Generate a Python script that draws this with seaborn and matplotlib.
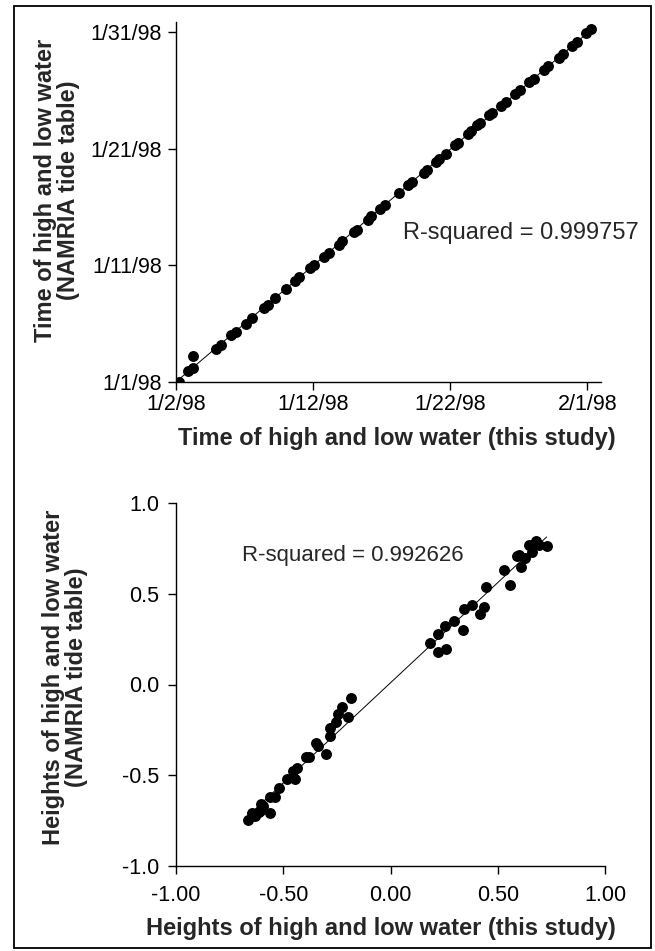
import matplotlib
matplotlib.use("Agg")
import matplotlib.pyplot as plt
import seaborn as sns
import numpy as np
import pandas as pd
from matplotlib.patches import Rectangle

# ---- data (days of January 1998; day 32 = Feb 1) ----
time_study = [2.21, 2.88, 3.22, 3.22, 4.92, 5.25, 6.04, 6.35, 7.08, 7.56,
              8.41, 8.69, 9.23, 9.99, 10.69, 10.97, 11.79, 12.09, 12.79, 13.16,
              13.91, 14.13, 15.01, 15.22, 15.98, 16.22, 16.86, 17.26, 18.26, 18.93,
              19.23, 20.09, 20.30, 20.94, 21.21, 21.67, 22.33, 22.55, 23.31, 23.55,
              23.95, 24.19, 24.86, 25.07, 25.74, 26.04, 26.74, 27.08, 27.77, 28.08,
              28.84, 29.14, 29.90, 30.21, 30.90, 31.27, 31.91, 32.24]
time_namria = [1.00, 1.92, 2.21, 3.24, 3.87, 4.16, 5.02, 5.31, 6.00, 6.46,
               7.38, 7.61, 8.24, 8.99, 9.68, 10.02, 10.77, 11.06, 11.69, 12.03,
               12.78, 13.07, 13.84, 14.05, 14.91, 15.20, 15.83, 16.14, 17.21, 17.87,
               18.16, 18.93, 19.16, 19.85, 20.14, 20.54, 21.29, 21.52, 22.29, 22.52,
               23.07, 23.24, 23.87, 24.10, 24.68, 25.02, 25.71, 26.00, 26.75, 26.98,
               27.72, 28.07, 28.82, 29.10, 29.85, 30.14, 30.94, 31.23]

height_study = [-0.664, -0.644, -0.632, -0.625, -0.612, -0.605, -0.602, -0.595, -0.563, -0.560,
                -0.540, -0.520, -0.482, -0.446, -0.454, -0.436, -0.392, -0.380, -0.345, -0.338,
                -0.302, -0.283, -0.280, -0.252, -0.247, -0.228, -0.200, -0.182,
                0.184, 0.223, 0.254, 0.223, 0.259, 0.296, 0.340, 0.344, 0.379, 0.417,
                0.436, 0.446, 0.527, 0.557, 0.590, 0.600, 0.608, 0.627, 0.644, 0.660,
                0.678, 0.690, 0.728]
height_namria = [-0.748, -0.706, -0.722, -0.715, -0.700, -0.690, -0.660, -0.672, -0.706, -0.620,
                 -0.620, -0.569, -0.519, -0.523, -0.477, -0.459, -0.400, -0.398, -0.321, -0.340,
                 -0.381, -0.284, -0.238, -0.207, -0.165, -0.123, -0.180, -0.077,
                 0.229, 0.279, 0.321, 0.178, 0.196, 0.348, 0.299, 0.418, 0.436, 0.391,
                 0.425, 0.535, 0.633, 0.549, 0.710, 0.712, 0.648, 0.697, 0.770, 0.728,
                 0.792, 0.767, 0.765]

time_xticks = [2, 12, 22, 32]
time_xticklabels = ["1/2/98", "1/12/98", "1/22/98", "2/1/98"]
time_yticks = [1, 11, 21, 31]
time_yticklabels = ["1/1/98", "1/11/98", "1/21/98", "1/31/98"]
height_xticks = [-1.0, -0.5, 0.0, 0.5, 1.0]
height_xticklabels = ["-1.00", "-0.50", "0.00", "0.50", "1.00"]
height_yticks = [-1.0, -0.5, 0.0, 0.5, 1.0]
height_yticklabels = ["-1.0", "-0.5", "0.0", "0.5", "1.0"]

r2_time = "R-squared = 0.999757"
r2_height = "R-squared = 0.992626"

sns.set_style("ticks")
plt.rcParams['font.family'] = ['Liberation Sans', 'DejaVu Sans']
plt.rcParams['axes.linewidth'] = 1.0
plt.rcParams['xtick.color'] = 'black'
plt.rcParams['ytick.color'] = 'black'

fig = plt.figure(figsize=(6.55, 9.51), dpi=100)
W, H = 655, 951

def axes_px(l, t, r, b):
    return fig.add_axes([l / W, 1 - b / H, (r - l) / W, (b - t) / H])

ax1 = axes_px(176, 22, 601, 382)
ax2 = axes_px(176, 503, 605, 866)

df_t = pd.DataFrame({"x": time_study, "y": time_namria})
df_h = pd.DataFrame({"x": height_study, "y": height_namria})

scat = dict(s=62, color="black", linewidths=0, alpha=1)
line = dict(color="black", lw=0.7)

sns.regplot(data=df_t, x="x", y="y", ax=ax1, ci=None, scatter_kws=scat, line_kws=line)
sns.regplot(data=df_h, x="x", y="y", ax=ax2, ci=None, scatter_kws=scat, line_kws=line)

for ax in (ax1, ax2):
    sns.despine(ax=ax)
    ax.spines['left'].set_color('black')
    ax.spines['bottom'].set_color('black')
    ax.tick_params(axis='both', direction='out', length=6, width=1, labelsize=15.5, colors='black')

ax1.set_xlim(2, 33)
ax1.set_ylim(1, 31.87)
ax1.set_xticks(time_xticks)
ax1.set_xticklabels(time_xticklabels)
ax1.set_yticks(time_yticks)
ax1.set_yticklabels(time_yticklabels)
ax1.tick_params(axis='x', pad=3)
ax1.tick_params(axis='y', pad=4)

ax2.set_xlim(-1, 1)
ax2.set_ylim(-1, 1)
ax2.set_xticks(height_xticks)
ax2.set_xticklabels(height_xticklabels)
ax2.set_yticks(height_yticks)
ax2.set_yticklabels(height_yticklabels)
ax2.tick_params(axis='x', pad=8)
ax2.tick_params(axis='y', pad=6)

lab = dict(fontsize=17, fontweight='bold')
ax1.set_xlabel("Time of high and low water (this study)", **lab)
ax1.set_ylabel("Time of high and low water\n(NAMRIA tide table)", linespacing=1.0, **lab)
ax1.xaxis.set_label_coords(0.519, -0.124)
ax1.yaxis.set_label_coords(-0.226, 0.533)

ax2.set_xlabel("Heights of high and low water (this study)", **lab)
ax2.set_ylabel("Heights of high and low water\n(NAMRIA tide table)", linespacing=1.0, **lab)
ax2.xaxis.set_label_coords(0.478, -0.140)
ax2.yaxis.set_label_coords(-0.205, 0.521)

ax1.text(18.55, 13.8, r2_time, fontsize=17, ha='left', va='center')
ax2.text(-0.694, 0.71, r2_height, fontsize=16, ha='left', va='center')

fig.patches.append(Rectangle((14 / W, 1 - 948 / H), (651 - 14) / W, (948 - 6) / H,
                             transform=fig.transFigure, fill=False,
                             edgecolor='black', linewidth=1.3))

fig.savefig("out.png", dpi=100, facecolor='white')
